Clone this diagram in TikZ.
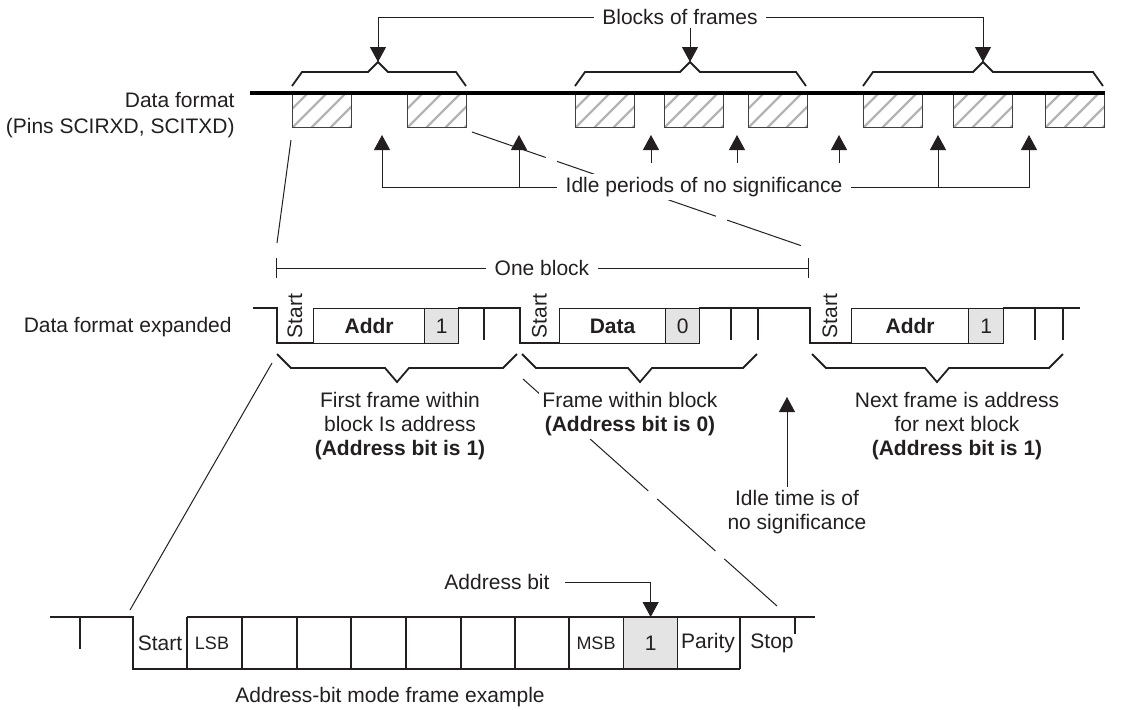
\documentclass[tikz,border=0pt]{standalone}
\usepackage{fontspec}
\setmainfont{Liberation Sans}
\usetikzlibrary{arrows.meta, calc}
\definecolor{sciInk}{HTML}{231F20}
\definecolor{sciHatch}{HTML}{B4B4B4}
\definecolor{sciBit}{HTML}{E4E4E4}
\newcommand\sciFont{\fontsize{10.5}{12.2}\selectfont}
\newcommand\sciSmall{\fontsize{9}{11}\selectfont}
\tikzset{
  thinline/.style={line width=0.5pt, draw=sciInk},
  sigline/.style={line width=0.65pt, draw=sciInk},
  busline/.style={line width=1.7pt, draw=black},
  bracket/.style={line width=0.9pt, draw=sciInk, line join=miter},
  pointer/.style={thinline, -{Triangle[length=7.5pt, width=8pt]}},
  zoomdash/.style={thinline, dash pattern=on 39pt off 6pt},
  lbl/.style={font=\sciFont, text=sciInk, inner sep=1.5pt},
  tagl/.style={lbl, inner xsep=4pt},
  hatchbox/.style={
    draw=black!75, line width=0.5pt, minimum width=29.5pt, minimum height=17pt,
    inner sep=0pt, anchor=north west,
    path picture={
      \foreach \k in {-2,...,3}
        \draw[sciHatch, line width=1.1pt]
          ([xshift=\k*9.5pt]path picture bounding box.south west) -- ++(40,-40);
    }
  },
  bitcell/.style={draw=sciInk, line width=0.65pt, minimum height=17.5pt, inner sep=0pt,
    anchor=north west, font=\sciFont, text=sciInk},
  addrbit/.style={bitcell, fill=sciBit}
}

\begin{document}
\begin{tikzpicture}[x=0.5pt, y=-0.5pt]
  \useasboundingbox (0,0) rectangle (1136,709);

  % top: line with blocks of frames
  \foreach \x [count=\i] in {292,407,575,664,748,863,953,1045}
    \node[hatchbox] (hb\i) at (\x,93) {};
  \draw[busline] (250,93) -- (1105,93);
  \node[lbl, anchor=east, align=right] (dfmt) at (238,115) {Data format\\[0.8pt](Pins SCIRXD, SCITXD)};
  \foreach \a/\b/\t in {292/466/378, 575/806/690, 863/1103/983}
    \draw[bracket] (\a,86) -- (\a+10,72) -- (\t-10,72) -- (\t,62) -- (\t+10,72) -- (\b-10,72) -- (\b,86);
  \coordinate (bt1) at (378,62);
  \coordinate (bt2) at (690,62);
  \coordinate (bt3) at (983,62);
  \node[tagl] (blocks) at (680,17) {Blocks of frames};
  \draw[pointer] (blocks.west) -| (bt1);
  \draw[pointer] (bt2 |- blocks.south) -- (bt2);
  \draw[pointer] (blocks.east) -| (bt3);

  % zoom lines to the expanded block
  \coordinate (z1a) at (291,140);
  \coordinate (z1b) at (277,243);
  \coordinate (z2a) at (472,132);
  \coordinate (z2b) at (805,247);
  \draw[thinline] (z1a) -- (z1b);
  \draw[zoomdash] (z2a) -- (z2b);

  % idle periods
  \node[tagl, fill=white] (idle) at (704,187) {Idle periods of no significance};
  \foreach \x [count=\i] in {382,519,938,1029}
    \coordinate (ia\i) at (\x,135);
  \draw[pointer] (idle.west) -| (ia1);
  \draw[pointer] (ia2 |- idle.west) -- (ia2);
  \draw[pointer] (ia3 |- idle.east) -- (ia3);
  \draw[pointer] (idle.east) -| (ia4);
  \foreach \x [count=\i] in {651,737,839} {
    \coordinate (sa\i) at (\x,163);
    \coordinate (sb\i) at (\x,135);
    \draw[pointer] (sa\i) -- (sb\i);
  }

  % one block, expanded
  \coordinate (ob1) at (276,268);
  \coordinate (ob2) at (809,268);
  \node[tagl] (oneblk) at (542,268) {One block};
  \draw[thinline, {Bar[width=10pt]}-] (ob1) -- (oneblk.west);
  \draw[thinline, -{Bar[width=10pt]}] (oneblk.east) -- (ob2);
  \node[lbl, anchor=east] (dfx) at (235,327) {Data format expanded};

  \foreach \l/\r/\txt/\nm/\sty in {313/424/{\textbf{Addr}}/fa/bitcell, 424/458/1/fb/addrbit,
      559/665/{\textbf{Data}}/fc/bitcell, 665/699/0/fd/addrbit,
      851/968/{\textbf{Addr}}/fe/bitcell, 968/1003/1/ff/addrbit}
    \node[\sty, minimum width={(\r-\l)*0.5pt}] (\nm) at (\l,308) {\txt};
  \draw[sigline] (253,308) -- (277,308) -- (277,343) -- (313,343);
  \draw[sigline] (458,308) -- (520,308) -- (520,343) -- (559,343);
  \draw[sigline] (699,308) -- (810,308) -- (810,343) -- (851,343);
  \draw[sigline] (1003,308) -- (1080,308);
  \foreach \x in {484,731,758,1035,1063}
    \draw[sigline] (\x,308) -- (\x,340);
  \foreach \x [count=\i] in {295,539.5,830}
    \node[lbl, rotate=90] (st\i) at (\x,316) {Start};

  \foreach \a/\b/\t in {277/517/397, 522/757/640, 812/1063/937}
    \draw[bracket] (\a,354) -- (\a+14,368) -- (\t-12,368) -- (\t,382) -- (\t+12,368) -- (\b-14,368) -- (\b,354);

  % zoom lines to the single frame
  \coordinate (z3a) at (272,363);
  \coordinate (z3b) at (130,610);
  \coordinate (z4a) at (523,379);
  \coordinate (z4b) at (777,606);
  \draw[thinline] (z3a) -- (z3b);
  \draw[zoomdash] (z4a) -- (z4b);

  \node[lbl, align=center] (f1txt) at (400,426) {First frame within\\block Is address\\\textbf{(Address bit is 1)}};
  \node[lbl, align=center, fill=white] (f2txt) at (630,414) {Frame within block\\\textbf{(Address bit is 0)}};
  \node[lbl, align=center] (f3txt) at (957,426) {Next frame is address\\for next block\\\textbf{(Address bit is 1)}};
  \node[lbl, align=center] (idletime) at (797,512) {Idle time is of\\no significance};
  \coordinate (it1) at (787,397);
  \draw[pointer] (it1 |- idletime.north) -- (it1);

  % address-bit mode frame
  \node[addrbit, minimum width=27pt, minimum height=26pt] (abit) at (623,617) {1};
  \draw[sigline] (50,617) -- (133,617) -- (133,669) -- (740,669);
  \draw[sigline] (187,617) -- (815,617);
  \draw[sigline] (80,617) -- (80,649);
  \draw[sigline] (795,617) -- (795,634);
  \foreach \x in {187,242,297,351,406,461,515,569,740}
    \draw[sigline] (\x,617) -- (\x,669);
  \foreach \x/\txt/\f [count=\i] in {160/Start/\sciFont, 212/LSB/\sciSmall, 596/MSB/\sciSmall,
      708/Parity/\sciFont, 772/Stop/\sciFont}
    \node[lbl, font=\f] (bc\i) at (\x,643) {\txt};
  \node[lbl] (abtxt) at (497,582) {Address bit};
  \draw[pointer, shorten <=6pt] (abtxt.east) -| (abit.north);
  \node[lbl] (caption) at (390,697) {Address-bit mode frame example};
\end{tikzpicture}
\end{document}
